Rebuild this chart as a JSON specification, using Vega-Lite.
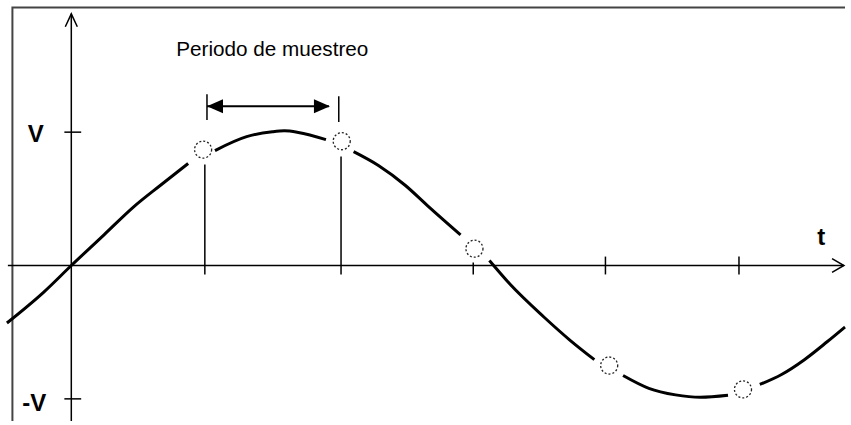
{
  "$schema": "https://vega.github.io/schema/vega-lite/v6.json",
  "width": 851,
  "height": 425,
  "autosize": {"type": "fit", "contains": "padding"},
  "padding": 0,
  "background": "white",
  "config": {"view": {"stroke": null}},
  "datasets": {
    "curve": [
      {"s": "A", "t": -0.482, "v": -0.431}, {"s": "A", "t": -0.208, "v": -0.201}, {"s": "A", "t": 0, "v": 0},
      {"s": "A", "t": 0.245, "v": 0.23}, {"s": "A", "t": 0.467, "v": 0.44}, {"s": "A", "t": 0.668, "v": 0.602},
      {"s": "A", "t": 0.875, "v": 0.765},
      {"s": "B", "t": 1.076, "v": 0.862}, {"s": "B", "t": 1.313, "v": 0.966}, {"s": "B", "t": 1.506, "v": 1.003},
      {"s": "B", "t": 1.595, "v": 1.01}, {"s": "B", "t": 1.7, "v": 0.998}, {"s": "B", "t": 1.907, "v": 0.944},
      {"s": "C", "t": 2.114, "v": 0.854}, {"s": "C", "t": 2.3, "v": 0.75}, {"s": "C", "t": 2.5, "v": 0.602},
      {"s": "C", "t": 2.671, "v": 0.446}, {"s": "C", "t": 2.915, "v": 0.23},
      {"s": "D", "t": 3.131, "v": 0.037}, {"s": "D", "t": 3.286, "v": -0.141}, {"s": "D", "t": 3.539, "v": -0.386},
      {"s": "D", "t": 3.731, "v": -0.557}, {"s": "D", "t": 3.917, "v": -0.706},
      {"s": "E", "t": 4.132, "v": -0.825}, {"s": "E", "t": 4.325, "v": -0.921}, {"s": "E", "t": 4.525, "v": -0.97},
      {"s": "E", "t": 4.711, "v": -0.988}, {"s": "E", "t": 4.918, "v": -0.973},
      {"s": "F", "t": 5.156, "v": -0.892}, {"s": "F", "t": 5.319, "v": -0.817}, {"s": "F", "t": 5.49, "v": -0.706},
      {"s": "F", "t": 5.66, "v": -0.572}, {"s": "F", "t": 5.794, "v": -0.461}
    ],
    "samples": [
      {"t": 0.987, "v": 0.869}, {"t": 2.025, "v": 0.932}, {"t": 3.019, "v": 0.126},
      {"t": 4.028, "v": -0.75}, {"t": 5.03, "v": -0.929}
    ],
    "vticks": [
      {"t": 1.0, "v": -0.067, "v2": 0.758},
      {"t": 2.02, "v": -0.067, "v2": 0.817},
      {"t": 3.01, "v": -0.067, "v2": 0.022},
      {"t": 4.0, "v": -0.067, "v2": 0.067},
      {"t": 5.0, "v": -0.067, "v2": 0.067},
      {"t": 0, "v": -1.166, "v2": 1.887}
    ],
    "hticks": [
      {"t": -0.052, "t2": 0.074, "v": 1.0},
      {"t": -0.052, "t2": 0.074, "v": -1.0},
      {"t": -0.475, "t2": 5.786, "v": 0}
    ],
    "bars": [
      {"t": 1.016, "v": 1.092, "v2": 1.285},
      {"t": 2.003, "v": 1.077, "v2": 1.27}
    ],
    "arrowline": [
      {"t": 1.016, "t2": 1.929, "v": 1.194}
    ],
    "headL": [{"t": 1.076, "v": 1.194}],
    "headR": [{"t": 1.877, "v": 1.194}],
    "frame": [
      {"o": 1, "t": -0.441, "v": -1.166},
      {"o": 2, "t": -0.441, "v": 1.935},
      {"o": 3, "t": 5.794, "v": 1.935}
    ],
    "axisarrows": [
      {"g": "y", "o": 1, "t": -0.045, "v": 1.79},
      {"g": "y", "o": 2, "t": 0, "v": 1.887},
      {"g": "y", "o": 3, "t": 0.045, "v": 1.79},
      {"g": "x", "o": 1, "t": 5.697, "v": 0.052},
      {"g": "x", "o": 2, "t": 5.786, "v": 0},
      {"g": "x", "o": 3, "t": 5.697, "v": -0.052}
    ],
    "title": [{"t": 0.786, "v": 1.568, "label": "Periodo de muestreo"}],
    "labels": [
      {"t": -0.267, "v": 0.929, "label": "V"},
      {"t": -0.278, "v": -1.092, "label": "-V"},
      {"t": 5.616, "v": 0.156, "label": "t"}
    ]
  },
  "encoding": {
    "x": {"field": "t", "type": "quantitative", "scale": {"domain": [-0.519, 5.794], "nice": false, "zero": false}, "axis": null},
    "y": {"field": "v", "type": "quantitative", "scale": {"domain": [-1.166, 1.991], "nice": false, "zero": false}, "axis": null}
  },
  "layer": [
    {
      "data": {"name": "frame"},
      "mark": {"type": "line", "stroke": "#444444", "strokeWidth": 2},
      "encoding": {"order": {"field": "o", "type": "quantitative"}}
    },
    {
      "data": {"name": "vticks"},
      "mark": {"type": "rule", "stroke": "#000000", "strokeWidth": 1.5},
      "encoding": {"y2": {"field": "v2"}}
    },
    {
      "data": {"name": "hticks"},
      "mark": {"type": "rule", "stroke": "#000000", "strokeWidth": 1.5},
      "encoding": {"x2": {"field": "t2"}}
    },
    {
      "data": {"name": "axisarrows"},
      "mark": {"type": "line", "stroke": "#000000", "strokeWidth": 1.5},
      "encoding": {"detail": {"field": "g"}, "order": {"field": "o", "type": "quantitative"}}
    },
    {
      "data": {"name": "curve"},
      "mark": {"type": "line", "stroke": "#000000", "strokeWidth": 3, "interpolate": "monotone"},
      "encoding": {"detail": {"field": "s"}}
    },
    {
      "data": {"name": "samples"},
      "mark": {"type": "point", "shape": "circle", "filled": false, "fill": "#ffffff", "fillOpacity": 1, "opacity": 1, "stroke": "#222222", "strokeWidth": 1.3, "strokeDash": [2, 2], "size": 290},
      "encoding": {}
    },
    {
      "data": {"name": "bars"},
      "mark": {"type": "rule", "stroke": "#000000", "strokeWidth": 1.5},
      "encoding": {"y2": {"field": "v2"}}
    },
    {
      "data": {"name": "arrowline"},
      "mark": {"type": "rule", "stroke": "#000000", "strokeWidth": 2},
      "encoding": {"x2": {"field": "t2"}}
    },
    {
      "data": {"name": "headL"},
      "mark": {"type": "point", "shape": "M-1,0L1,-0.875L1,0.875Z", "filled": true, "fill": "#000000", "opacity": 1, "size": 256},
      "encoding": {}
    },
    {
      "data": {"name": "headR"},
      "mark": {"type": "point", "shape": "M1,0L-1,-0.875L-1,0.875Z", "filled": true, "fill": "#000000", "opacity": 1, "size": 256},
      "encoding": {}
    },
    {
      "data": {"name": "title"},
      "mark": {"type": "text", "font": "Liberation Sans", "fontSize": 20.7, "align": "left", "baseline": "alphabetic", "color": "#000000"},
      "encoding": {"text": {"field": "label"}}
    },
    {
      "data": {"name": "labels"},
      "mark": {"type": "text", "font": "Liberation Sans", "fontWeight": "bold", "fontSize": 24, "align": "center", "baseline": "alphabetic", "color": "#000000"},
      "encoding": {"text": {"field": "label"}}
    }
  ]
}
